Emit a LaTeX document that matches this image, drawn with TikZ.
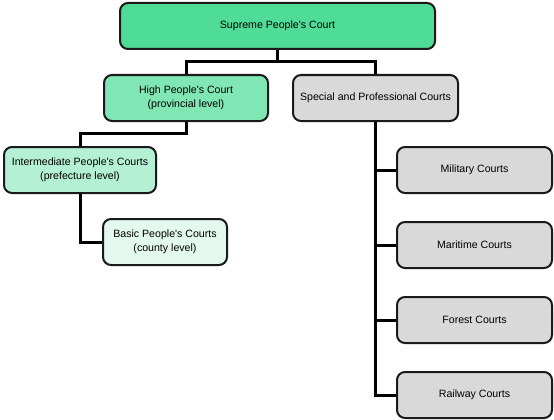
\documentclass[tikz,border=0pt]{standalone}
\usepackage{fontspec}
\setmainfont{Liberation Sans}[Ligatures=TeXOff]
\usetikzlibrary{backgrounds}
\definecolor{supc}{HTML}{4EDC96}
\definecolor{highc}{HTML}{80E6B3}
\definecolor{interc}{HTML}{B3F0D4}
\definecolor{basicc}{HTML}{E3F8EE}
\definecolor{grayc}{HTML}{D9D9D9}
\definecolor{edgec}{HTML}{1A1A1A}
\tikzset{
  court/.style={draw=edgec, line width=2pt, rounded corners=8pt, align=center,
    minimum height=46pt, inner sep=0pt,
    font=\fontsize{10.6}{13.5}\selectfont},
  link/.style={line width=3pt, black}
}
\begin{document}
\begin{tikzpicture}[x=1pt,y=-1pt]
\useasboundingbox (0,0) rectangle (554,420);
\node[court, fill=supc, minimum width=315pt] (sup) at (277.5,26) {Supreme People's Court};
\node[court, fill=highc, minimum width=164pt] (high) at (186,98) {High People's Court\\(provincial level)};
\node[court, fill=grayc, minimum width=165pt] (spec) at (375.5,98) {Special and Professional Courts};
\node[court, fill=interc, minimum width=152pt] (inter) at (80,170) {Intermediate People's Courts\\(prefecture level)};
\node[court, fill=basicc, minimum width=124pt] (basic) at (165,242) {Basic People's Courts\\(county level)};
\node[court, fill=grayc, minimum width=155pt] (mil) at (474.5,170) {Military Courts};
\node[court, fill=grayc, minimum width=155pt] (mar) at (474.5,245) {Maritime Courts};
\node[court, fill=grayc, minimum width=155pt] (for) at (474.5,320) {Forest Courts};
\node[court, fill=grayc, minimum width=155pt] (rail) at (474.5,395) {Railway Courts};
\begin{scope}[on background layer]
\draw[link] (sup.south) -- ++(0,12) -| (high.north);
\draw[link] (sup.south) -- ++(0,12) -| (spec.north);
\draw[link] (high.south) -- ++(0,11) -| (inter.north);
\draw[link] (inter.south) |- (basic.west);
\draw[link] (spec.south) |- (mil.west);
\draw[link] (spec.south) |- (mar.west);
\draw[link] (spec.south) |- (for.west);
\draw[link] (spec.south) |- (rail.west);
\end{scope}
\end{tikzpicture}
\end{document}
